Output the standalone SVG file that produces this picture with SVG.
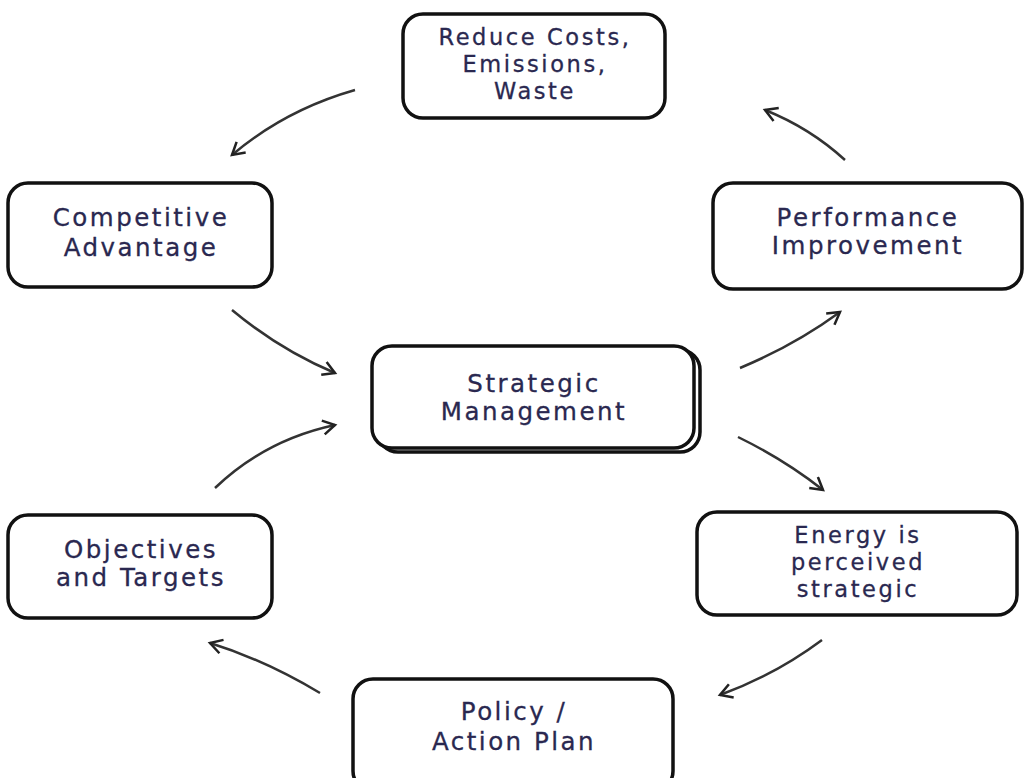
<svg xmlns="http://www.w3.org/2000/svg" width="1028" height="778" viewBox="0 0 1028 778">
<defs>
<marker id="ah" markerUnits="userSpaceOnUse" markerWidth="20" markerHeight="20" refX="14" refY="8" orient="auto">
<path d="M2,1 L14,8 L2,15" fill="none" stroke="#222" stroke-width="2.5"/>
</marker>
<style>
.box{fill:#fff;stroke:#111;stroke-width:3.5}
.t{font-family:"DejaVu Sans",Verdana,sans-serif;font-size:24.5px;fill:#2a2850;stroke:#2a2850;stroke-width:0.3;text-anchor:middle;letter-spacing:2.5px}
.s{font-size:22.5px;letter-spacing:2.6px}
.c{fill:none;stroke:#333;stroke-width:2.5;marker-end:url(#ah)}
</style>
</defs>
<rect width="1028" height="778" fill="#fff"/>
<g id="connectors">
<path class="c" d="M355,90 Q285,110 232,155"/>
<path class="c" d="M845,160 Q810,128 765,110"/>
<path class="c" d="M232,310 Q280,350 335,373"/>
<path class="c" d="M740,368 Q795,345 840,312"/>
<path class="c" d="M738,437 Q785,460 823,490"/>
<path class="c" d="M822,640 Q775,675 720,695"/>
<path class="c" d="M320,693 Q265,660 210,643"/>
<path class="c" d="M215,488 Q265,440 335,425"/>
</g>
<g id="reduce">
<rect class="box" x="403" y="14" width="262" height="104" rx="20"/>
<text class="t s"><tspan x="535" y="45">Reduce Costs,</tspan><tspan x="535" y="72">Emissions,</tspan><tspan x="535" y="99">Waste</tspan></text>
</g>
<g id="competitive">
<rect class="box" x="8" y="183" width="264" height="104" rx="20"/>
<text class="t"><tspan x="141" y="226">Competitive</tspan><tspan x="141" y="256">Advantage</tspan></text>
</g>
<g id="performance">
<rect class="box" x="713" y="183" width="309" height="106" rx="20"/>
<text class="t"><tspan x="868" y="226">Performance</tspan><tspan x="868" y="254">Improvement</tspan></text>
</g>
<g id="strategic">
<rect class="box" x="378" y="350" width="322" height="102" rx="20"/>
<rect class="box" x="372" y="346" width="322" height="102" rx="20"/>
<text class="t"><tspan x="534" y="392">Strategic</tspan><tspan x="534" y="420">Management</tspan></text>
</g>
<g id="objectives">
<rect class="box" x="8" y="515" width="264" height="103" rx="20"/>
<text class="t"><tspan x="141" y="558">Objectives</tspan><tspan x="141" y="586">and Targets</tspan></text>
</g>
<g id="energy">
<rect class="box" x="697" y="512" width="320" height="103" rx="20"/>
<text class="t s"><tspan x="858" y="543">Energy is</tspan><tspan x="858" y="570">perceived</tspan><tspan x="858" y="597">strategic</tspan></text>
</g>
<g id="policy">
<rect class="box" x="353" y="679" width="320" height="112" rx="20"/>
<text class="t"><tspan x="514" y="720">Policy /</tspan><tspan x="514" y="750">Action Plan</tspan></text>
</g>
</svg>
